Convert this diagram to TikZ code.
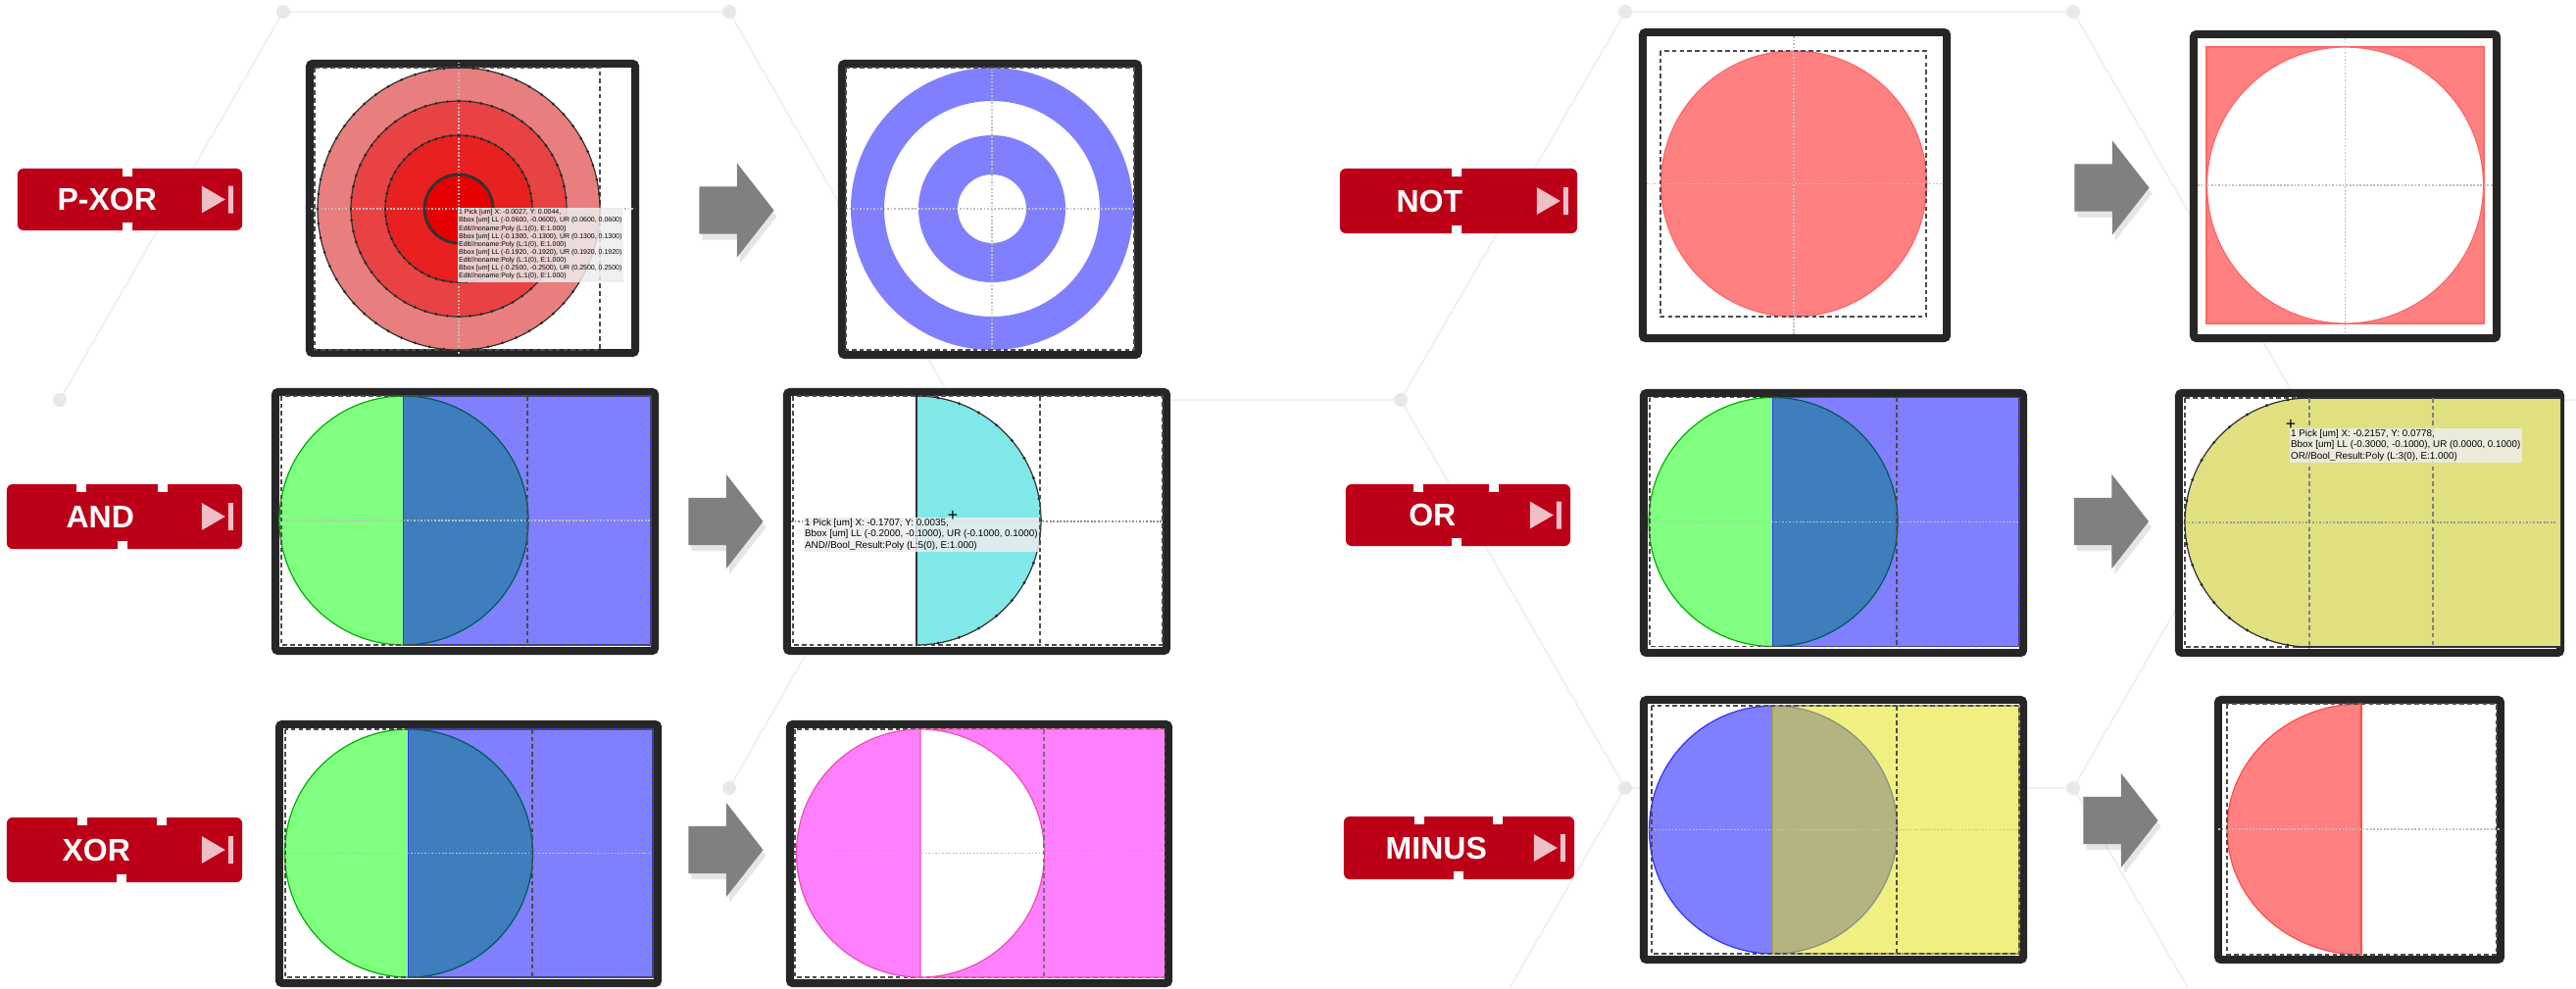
\documentclass[tikz,border=0pt]{standalone}
\usepackage{fontspec}
\usepackage{graphicx}
\setmainfont{Liberation Sans}
\usetikzlibrary{shapes.arrows,shadows}

\definecolor{tagred}{RGB}{188,0,24}
\definecolor{framegray}{RGB}{38,38,38}
\definecolor{hexline}{RGB}{240,240,240}
\definecolor{hexdot}{RGB}{232,232,232}
\definecolor{ringA}{RGB}{232,126,126}
\definecolor{ringB}{RGB}{233,66,66}
\definecolor{ringC}{RGB}{232,32,32}
\definecolor{ringD}{RGB}{230,0,0}
\definecolor{layblue}{RGB}{128,128,255}
\definecolor{laygreen}{RGB}{128,255,128}
\definecolor{laymix}{RGB}{63,126,188}
\definecolor{laycyan}{RGB}{128,232,232}
\definecolor{layolive}{RGB}{224,224,128}
\definecolor{laypink}{RGB}{255,128,255}
\definecolor{layyellow}{RGB}{240,240,128}
\definecolor{laykhaki}{RGB}{180,180,128}
\definecolor{layred}{RGB}{255,128,128}

\newcommand{\tipsmall}{\fontsize{2.8}{3.25}\selectfont}
\newcommand{\tiplarge}{\fontsize{2.8}{3.3}\selectfont}

\begin{document}
\begin{tikzpicture}[x=0.01cm,y=-0.01cm,
 tag/.style={fill=tagred,rounded corners=0.06cm,inner sep=0pt},
 tagtext/.style={text=white,font=\fontsize{9.1}{9.1}\selectfont\bfseries,inner sep=0pt},
 notch/.style={fill=white},
 play/.style={fill=white,fill opacity=0.75},
 frame/.style={draw=framegray,line width=0.08cm,fill=white,rounded corners=0.03cm,inner sep=0pt},
 bbox/.style={draw=black!70,line width=0.35pt,dash pattern=on 1.3pt off 0.9pt},
 cross/.style={draw=black!25,line width=0.35pt,dash pattern=on 0.5pt off 0.5pt},
 outline/.style={draw=black!80,line width=0.35pt},
 marker/.style={fill=black!85},
 bigarrow/.style={single arrow,fill=black!50,inner xsep=0pt,inner ysep=0.235cm,minimum height=0.76cm,
   single arrow head extend=0.24cm,single arrow tip angle=104,
   drop shadow={shadow xshift=0.03cm,shadow yshift=-0.06cm,opacity=0.2}},
 hex/.style={draw=hexline,line width=0.5pt},
 tip/.style={anchor=north west,align=left,inner sep=0.4pt,fill=black!7,fill opacity=0.85,text opacity=1},
 cursor/.style={font=\fontsize{5}{5}\selectfont,inner sep=0pt}]
\path[use as bounding box,fill=white] (0,0) rectangle (2628,1008);

% honeycomb behind everything
\draw[hex] (61,408) -- (289,12) -- (744,12) -- (971,408) -- (1429,408) -- (1658,12) -- (2115,12) -- (2343,408) -- (2628,408);
\draw[hex] (971,408) -- (744,804);
\draw[hex] (1429,408) -- (1658,804) -- (2115,804) -- (2343,408);
\draw[hex] (1658,804) -- (1540,1008) (2115,804) -- (2232,1008);
\foreach \v in {(61,408),(289,12),(744,12),(971,408),(1429,408),(1658,12),(2115,12),(2343,408),(744,804),(1658,804),(2115,804)}
  \fill[hexdot] \v circle[radius=7];

% operation tags
\node[tag,minimum width=2.29cm,minimum height=0.63cm] (pxor) at (132.5,203.5) {};
\node[tag,minimum width=2.42cm,minimum height=0.66cm] (not) at (1488,205) {};
\node[tag,minimum width=2.40cm,minimum height=0.66cm] (and) at (127,527) {};
\node[tag,minimum width=2.29cm,minimum height=0.63cm] (or) at (1487.5,525.5) {};
\node[tag,minimum width=2.40cm,minimum height=0.66cm] (xor) at (127,867) {};
\node[tag,minimum width=2.35cm,minimum height=0.64cm] (minus) at (1488.5,865) {};
\node[tagtext] (pxortext) at ([xshift=0.92cm]pxor.west) {P-XOR};
\node[tagtext] (nottext) at ([xshift=0.92cm]not.west) {NOT};
\node[tagtext] (andtext) at ([xshift=0.96cm]and.west) {AND};
\node[tagtext] (ortext) at ([xshift=0.89cm]or.west) {OR};
\node[tagtext] (xortext) at ([xshift=0.92cm]xor.west) {XOR};
\node[tagtext] (minustext) at ([xshift=0.95cm]minus.west) {MINUS};
\fill[notch] (125,171) rectangle (135,180) (125,227) rectangle (135,236);
\fill[notch] (1481,171) rectangle (1491,180) (1481,230) rectangle (1491,239);
\foreach \nx in {83,166} \fill[notch] (\nx-5,493) rectangle (\nx+5,502);
\fill[notch] (119.5,552) rectangle (129.5,561);
\foreach \nx in {1447,1524} \fill[notch] (\nx-5,493) rectangle (\nx+5,502);
\fill[notch] (1481,549) rectangle (1491,558);
\foreach \nx in {84,165} \fill[notch] (\nx-5,833) rectangle (\nx+5,842);
\fill[notch] (119,892) rectangle (129,901);
\foreach \nx in {1448,1528} \fill[notch] (\nx-5,832) rectangle (\nx+5,841);
\fill[notch] (1483,889) rectangle (1493,898);
\foreach \t in {pxor,not,and,or,xor,minus}
  \fill[play] ([shift={(-42,-14)}]\t.east) -- ++(24,14) -- ++(-24,14) -- cycle
              ([shift={(-15,-14)}]\t.east) rectangle ++(5,28);

% P-XOR: four nested polygons in, rings out
\node[frame,minimum width=3.32cm,minimum height=2.95cm] (pxorin) at (482,212.5) {};
\begin{scope}
 \clip ([shift={(4,4)}]pxorin.north west) rectangle ([shift={(-4,-4)}]pxorin.south east);
 \fill[ringA] (468,213) circle[radius=144];
 \fill[ringB] (468,213) circle[radius=110];
 \fill[ringC] (468,213) circle[radius=75];
 \fill[ringD] (468,213) circle[radius=35];
 \draw[cross] (468,60) -- (468,370) (310,213) -- (660,213);
 \draw[bbox] (321,69) rectangle (612,357);
 \foreach \r in {144,110,75,35}{
   \draw[outline] (468,213) circle[radius=\r];
   \foreach \a in {0,6,...,354} \fill[marker] (468,213) ++(\a:\r) circle[radius=1.5];
 }
 \draw[outline,line width=0.8pt] (468,213) circle[radius=35];
\end{scope}
\node[tip] (pxortip) at (466,211) {\scalebox{0.71}{\tipsmall\begin{tabular}{@{}l@{}}
 1 Pick [um] X: -0.0027, Y: 0.0044,\\
 Bbox [um] LL (-0.0600, -0.0600), UR (0.0600, 0.0600)\\
 Edit//noname:Poly (L:1(0), E:1.000)\\
 Bbox [um] LL (-0.1300, -0.1300), UR (0.1300, 0.1300)\\
 Edit//noname:Poly (L:1(0), E:1.000)\\
 Bbox [um] LL (-0.1920, -0.1920), UR (0.1920, 0.1920)\\
 Edit//noname:Poly (L:1(0), E:1.000)\\
 Bbox [um] LL (-0.2500, -0.2500), UR (0.2500, 0.2500)\\
 Edit//noname:Poly (L:1(0), E:1.000)\end{tabular}}};
\node[bigarrow] (pxorarrow) at (742,214.5) {};
\node[frame,minimum width=3.02cm,minimum height=2.97cm] (pxorout) at (1010,213.5) {};
\fill[layblue,even odd rule] (1012,213) circle[radius=144] circle[radius=110] circle[radius=75] circle[radius=35];
\draw[cross] (1012,69) -- (1012,357) (863,213) -- (1157,213);
\draw[bbox] (863,69) rectangle (1157,357);

% NOT
\node[frame,minimum width=3.10cm,minimum height=3.12cm] (notin) at (1831,189) {};
\filldraw[fill=layred,draw=red!60,line width=0.35pt] (1830,187.5) circle[radius=135.5];
\draw[cross] (1830,37) -- (1830,341) (1680,187.5) -- (1982,187.5);
\draw[bbox] (1694,52) rectangle (1965,323);
\node[bigarrow] (notarrow) at (2145,191.5) {};
\node[frame,minimum width=3.09cm,minimum height=3.10cm] (notout) at (2392.5,190) {};
\filldraw[fill=layred,draw=red!60,line width=0.35pt] (2251,48) rectangle (2534,330);
\filldraw[fill=white,draw=red!60,line width=0.35pt] (2392.5,189) circle[radius=141];
\draw[cross] (2392.5,39) -- (2392.5,341) (2242,189) -- (2543,189);

% AND
\node[frame,minimum width=3.87cm,minimum height=2.64cm] (andin) at (474.5,532) {};
\filldraw[fill=laygreen,draw=green!70!black,line width=0.35pt] (412,531) circle[radius=127];
\filldraw[fill=layblue,draw=blue!80,line width=0.5pt] (412,404) rectangle (664,658);
\begin{scope}
 \clip (412,404) rectangle (664,658);
 \filldraw[fill=laymix,draw=teal!70!black,line width=0.35pt] (412,531) circle[radius=127];
\end{scope}
\draw[cross] (285,531) -- (664,531);
\draw[bbox] (287,404) rectangle (664,658) (538,404) -- (538,658);
\node[bigarrow] (andarrow) at (731,532) {};
\node[frame,minimum width=3.87cm,minimum height=2.64cm] (andout) at (996.5,532) {};
\begin{scope}
 \clip (935,404) rectangle (1186,658);
 \filldraw[fill=laycyan,outline] (935,531) circle[radius=127];
\end{scope}
\draw[outline] (935,404) -- (935,658);
\foreach \a in {-90,-80,...,90} \fill[marker] (935,531) ++(\a:127) circle[radius=1.6];
\draw[cross,draw=black!45] (807,532) -- (1186,532);
\draw[bbox] (809,404) rectangle (1186,658) (1061,404) -- (1061,658);
\node[tip,font=\tiplarge] (andtip) at (819,527) {1 Pick [um] X: -0.1707, Y: 0.0035,\\
 Bbox [um] LL (-0.2000, -0.1000), UR (-0.1000, 0.1000)\\
 AND//Bool\_Result:Poly (L:5(0), E:1.000)};
\node[cursor] (andcursor) at (972,526) {+};

% OR
\node[frame,minimum width=3.87cm,minimum height=2.65cm] (orin) at (1870.5,533.5) {};
\filldraw[fill=laygreen,draw=green!70!black,line width=0.35pt] (1809,532.5) circle[radius=127];
\filldraw[fill=layblue,draw=blue!80,line width=0.5pt] (1809,405.5) rectangle (2060,659.5);
\begin{scope}
 \clip (1809,405.5) rectangle (2060,659.5);
 \filldraw[fill=laymix,draw=teal!70!black,line width=0.35pt] (1809,532.5) circle[radius=127];
\end{scope}
\draw[cross] (1681,532.5) -- (2060,532.5);
\draw[bbox] (1683,405.5) rectangle (2060,659.5) (1935,405.5) -- (1935,659.5);
\node[bigarrow] (orarrow) at (2144.5,532) {};
\node[frame,minimum width=3.89cm,minimum height=2.65cm] (orout) at (2417.5,533.5) {};
\draw[bbox] (2229,406) rectangle (2608,660);
\begin{scope}
 \clip ([shift={(4,4)}]orout.north west) rectangle ([shift={(-4,-4)}]orout.south east);
 \fill[layolive] (2356,533) circle[radius=127];
 \fill[layolive] (2356,406) rectangle (2620,660);
 \draw[outline] (2343,406) -- (2620,406) (2343,660) -- (2620,660);
\end{scope}
\begin{scope}
 \clip (2200,400) rectangle (2356,670);
 \draw[outline] (2356,533) circle[radius=127];
\end{scope}
\foreach \a in {90,100,...,270} \fill[marker] (2356,533) ++(\a:127) circle[radius=1.6];
\draw[cross,draw=black!40] (2229,533) -- (2608,533);
\draw[bbox,draw=black!50] (2356,406) -- (2356,660) (2482,406) -- (2482,660);
\node[tip,font=\tiplarge] (ortip) at (2335,436) {1 Pick [um] X: -0.2157, Y: 0.0778,\\
 Bbox [um] LL (-0.3000, -0.1000), UR (0.0000, 0.1000)\\
 OR//Bool\_Result:Poly (L:3(0), E:1.000)};
\node[cursor] (orcursor) at (2337,433) {+};

% XOR
\node[frame,minimum width=3.86cm,minimum height=2.64cm] (xorin) at (478,871) {};
\filldraw[fill=laygreen,draw=green!70!black,line width=0.35pt] (417,870.5) circle[radius=126.5];
\filldraw[fill=layblue,draw=blue!80,line width=0.5pt] (417,744) rectangle (666,997);
\begin{scope}
 \clip (417,744) rectangle (666,997);
 \filldraw[fill=laymix,draw=teal!70!black,line width=0.35pt] (417,870.5) circle[radius=126.5];
\end{scope}
\draw[cross] (289,870.5) -- (666,870.5);
\draw[bbox] (291,744) rectangle (666,997) (543,744) -- (543,997);
\node[bigarrow] (xorarrow) at (731,867) {};
\node[frame,minimum width=3.86cm,minimum height=2.64cm] (xorout) at (999,871) {};
\draw[bbox] (811,744) rectangle (1188,997);
\fill[laypink] (939,870.5) circle[radius=126.5];
\fill[laypink] (939,744) rectangle (1188,997);
\begin{scope}
 \clip (939,740) rectangle (1100,1000);
 \fill[white] (939,870.5) circle[radius=126.5];
\end{scope}
\draw[magenta!70,line width=0.35pt] (939,870.5) circle[radius=126.5] (939,744) -- (1188,744) (939,997) -- (1188,997) (939,744) -- (939,997);
\draw[cross] (810,870.5) -- (1188,870.5);
\draw[bbox,draw=black!55] (1065,744) -- (1065,997);

% MINUS
\node[frame,minimum width=3.87cm,minimum height=2.65cm] (minusin) at (1870.5,846.5) {};
\filldraw[fill=layblue,draw=blue!80,line width=0.35pt] (1809,846.5) circle[radius=126.5];
\filldraw[fill=layyellow,draw=olive!70,line width=0.35pt] (1809,720) rectangle (2060,973);
\begin{scope}
 \clip (1809,720) rectangle (2060,973);
 \filldraw[fill=laykhaki,draw=black!45,line width=0.35pt] (1809,846.5) circle[radius=126.5];
\end{scope}
\draw[cross] (1681,846.5) -- (2060,846.5);
\draw[bbox] (1685,720) rectangle (2060,973) (1935,720) -- (1935,973);
\node[bigarrow] (minusarrow) at (2154,837) {};
\node[frame,minimum width=2.88cm,minimum height=2.65cm] (minusout) at (2407,846.5) {};
\begin{scope}
 \clip (2260,710) rectangle (2409,985);
 \filldraw[fill=layred,draw=red!70,line width=0.35pt] (2409,846) ellipse[x radius=137,y radius=128];
\end{scope}
\draw[red!70,line width=0.5pt] (2409,718) -- (2409,974);
\draw[cross] (2263,846) -- (2551,846);
\draw[bbox] (2272,718) rectangle (2547,974);
\end{tikzpicture}
\end{document}
